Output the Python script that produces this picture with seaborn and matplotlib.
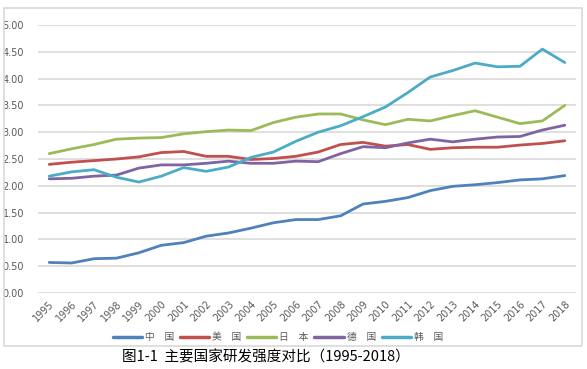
import matplotlib
matplotlib.use("Agg")
import matplotlib.pyplot as plt
import seaborn as sns
import pandas as pd
from matplotlib.patches import Rectangle

years = list(range(1995, 2019))
china = [0.57, 0.56, 0.64, 0.65, 0.75, 0.89, 0.94, 1.06, 1.12, 1.21, 1.31, 1.37,
         1.37, 1.44, 1.66, 1.71, 1.78, 1.91, 1.99, 2.02, 2.06, 2.11, 2.13, 2.19]
usa = [2.40, 2.44, 2.47, 2.50, 2.54, 2.62, 2.64, 2.55, 2.55, 2.49, 2.51, 2.55,
       2.63, 2.77, 2.81, 2.74, 2.77, 2.68, 2.71, 2.72, 2.72, 2.76, 2.79, 2.84]
japan = [2.60, 2.69, 2.77, 2.87, 2.89, 2.90, 2.97, 3.01, 3.04, 3.03, 3.18, 3.28,
         3.34, 3.34, 3.23, 3.14, 3.24, 3.21, 3.31, 3.40, 3.28, 3.16, 3.21, 3.50]
germany = [2.13, 2.14, 2.18, 2.20, 2.33, 2.39, 2.39, 2.42, 2.46, 2.42, 2.42, 2.46,
           2.45, 2.60, 2.73, 2.71, 2.80, 2.87, 2.82, 2.87, 2.91, 2.92, 3.04, 3.13]
korea = [2.18, 2.26, 2.30, 2.16, 2.07, 2.18, 2.34, 2.27, 2.35, 2.53, 2.63, 2.83,
         3.00, 3.12, 3.29, 3.47, 3.74, 4.03, 4.15, 4.29, 4.22, 4.23, 4.55, 4.30]
series_names = ["中　国", "美　国", "日　本", "德　国", "韩　国"]
colors = ["#4F81BD", "#C0504D", "#9BBB59", "#8064A2", "#4BACC6"]
caption = "图1-1  主要国家研发强度对比（1995-2018）"

sns.set_style("white")
plt.rcParams["font.family"] = ["Noto Sans CJK SC", "DejaVu Sans"]

rows = []
for name, vals in zip(series_names, [china, usa, japan, germany, korea]):
    for i, (y, v) in enumerate(zip(years, vals)):
        rows.append({"idx": i, "year": str(y), "country": name, "value": v})
df = pd.DataFrame(rows)

fig = plt.figure(figsize=(5.87, 3.69), dpi=100)
W, H = 587, 369
ax = fig.add_axes([38 / W, 1 - 293 / H, (576 - 38) / W, (293 - 25) / H])

# chart border
fig.patches.append(Rectangle((4 / W, 1 - 346 / H), (582 - 4) / W, (346 - 8) / H,
                             transform=fig.transFigure, fill=False,
                             edgecolor="#D9D9D9", linewidth=1.2, zorder=0))

sns.lineplot(data=df, x="idx", y="value", hue="country", palette=colors,
             hue_order=series_names, linewidth=2.0, ax=ax, legend=True)

ax.set_xlim(-0.5, len(years) - 0.5)
ax.set_ylim(0, 5.0)
ax.set_yticks([i * 0.5 for i in range(11)])
ax.set_yticklabels([f"{i * 0.5:.2f}" for i in range(11)], fontsize=7, color="#595959",
                   family=["DejaVu Sans"])
ax.set_xticks(range(len(years)))
ax.set_xticklabels([str(y) for y in years], rotation=45, ha="right",
                   rotation_mode="anchor", fontsize=7, color="#595959",
                   family=["DejaVu Sans"])
ax.tick_params(axis="both", length=0, pad=4)
ax.tick_params(axis="y", pad=10)
ax.yaxis.grid(True, color="#D9D9D9", linewidth=1.2)
ax.set_axisbelow(True)
for s in ax.spines.values():
    s.set_visible(False)
ax.set_xlabel("")
ax.set_ylabel("")

leg = ax.legend(loc="center", ncol=5, frameon=False, fontsize=7, handlelength=3.0,
                columnspacing=0.6, handletextpad=0.3)
for t in leg.get_texts():
    t.set_color("#595959")
for h in leg.get_lines():
    h.set_linewidth(2.5)
leg.set_bbox_to_anchor((278 / W, 1 - 337 / H), transform=fig.transFigure)

fig.text(266 / W, 1 - 357 / H, caption, ha="center", va="center", fontsize=10.5,
         color="black")

fig.savefig("out.png", dpi=100)
